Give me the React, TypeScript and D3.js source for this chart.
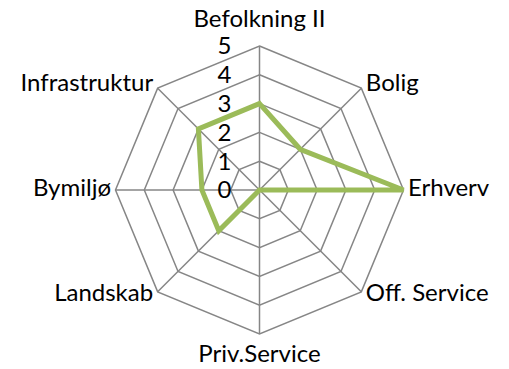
import React from "react";
import * as d3 from "d3";

const categories = ["Befolkning II", "Bolig", "Erhverv", "Off. Service", "Priv.Service", "Landskab", "Bymiljø", "Infrastruktur"];
const values = [3, 2, 5, 0, 0, 2, 2, 3];
const ticks = [0, 1, 2, 3, 4, 5];

const W = 509;
const H = 369;
const cx = 259.5;
const cy = 190;
const R = 144;
const FONT = "Lato, 'Open Sans', sans-serif";
const FS = 24;

export default function App() {
  const r = d3.scaleLinear().domain([0, 5]).range([0, R]);
  const angle = d3
    .scaleLinear()
    .domain([0, categories.length])
    .range([0, 2 * Math.PI]);
  const pt = (i: number, v: number): [number, number] => {
    const a = angle(i);
    return [cx + r(v) * Math.sin(a), cy - r(v) * Math.cos(a)];
  };
  const ring = (v: number) =>
    categories.map((_, i) => pt(i, v).join(",")).join(" ");
  const radial = d3
    .lineRadial<number>()
    .angle((_, i) => angle(i))
    .radius((d) => r(d))
    .curve(d3.curveLinearClosed);

  return (
    <svg
      width={W}
      height={H}
      style={{ position: "absolute", left: 0, top: 0, background: "#fff" }}
      fontFamily={FONT}
    >
      <rect width={W} height={H} fill="#fff" />
      {ticks.slice(1).map((t) => (
        <polygon key={t} points={ring(t)} fill="none" stroke="#868686" strokeWidth={1.5} />
      ))}
      {categories.map((c, i) => {
        const [x, y] = pt(i, 5);
        return <line key={c} x1={cx} y1={cy} x2={x} y2={y} stroke="#868686" strokeWidth={1.5} />;
      })}
      <path
        d={radial(values) || ""}
        transform={`translate(${cx},${cy})`}
        fill="none"
        stroke="#9BBB59"
        strokeWidth={5}
        strokeLinejoin="miter"
      />
      {ticks.map((t) => (
        <text
          key={t}
          x={cx - 28}
          y={cy - r(t)}
          dy="0.35em"
          textAnchor="end"
          fontSize={FS}
          fill="#000"
        >
          {t}
        </text>
      ))}
      {categories.map((c, i) => {
        const a = angle(i);
        const [vx, vy] = pt(i, 5);
        const s = Math.sin(a);
        const co = Math.cos(a);
        let anchor = "middle";
        let x = vx;
        let y = vy;
        if (Math.abs(s) < 0.01) {
          y = co > 0 ? vy - 27 : vy + 20;
        } else {
          anchor = s > 0 ? "start" : "end";
          x = vx + (s > 0 ? 4.5 : -4.5);
          y = vy - 2.5 - 5 * co;
        }
        return (
          <text key={c} x={x} y={y} dy="0.35em" textAnchor={anchor} fontSize={FS} fill="#000">
            {c}
          </text>
        );
      })}
    </svg>
  );
}
